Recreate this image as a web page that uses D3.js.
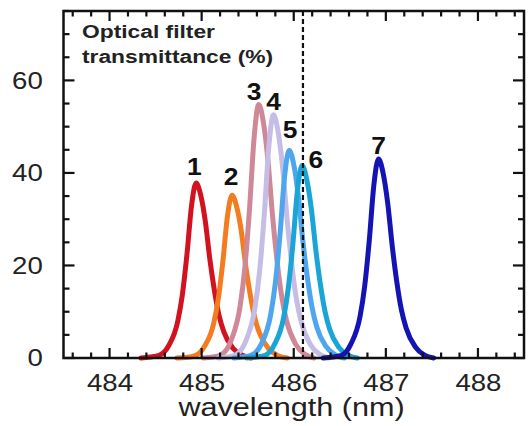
<!DOCTYPE html>
<html>
<head>
<meta charset="utf-8">
<script src="https://cdn.jsdelivr.net/npm/d3@7"></script>
<style>
  body { margin: 0; background: #fff; }
  svg { display: block; font-family: "Liberation Sans", Arial, sans-serif; }
</style>
</head>
<body>
<svg id="chart" width="528" height="426"></svg>
<script>
// ---- data ----
const filterNames = ["1", "2", "3", "4", "5", "6", "7"];
const peakCenters = [484.94, 485.33, 485.62, 485.78, 485.95, 486.09, 486.92]; // nm
// sample offsets (nm) from each peak centre
const offsets = [-0.6, -0.5, -0.4, -0.3, -0.2, -0.15, -0.1, -0.05, 0, 0.05, 0.1, 0.15, 0.2, 0.25, 0.3, 0.4, 0.5, 0.6];
const t1 = [0, 0.2, 0.6, 2.6, 7.9, 13.6, 22.3, 32.9, 37.8, 35.2, 29.5, 21.2, 14.4, 9.1, 5.7, 2.1, 0.6, 0];
const t2 = [0, 0.1, 0.5, 2.5, 7.4, 12.7, 20.8, 30.6, 35.2, 32.7, 27.5, 19.7, 13.4, 8.4, 5.3, 1.9, 0.5, 0];
const t3 = [0, 0.2, 0.8, 3.8, 11.5, 19.7, 32.3, 47.7, 54.8, 51.0, 42.7, 30.7, 20.8, 13.2, 8.2, 3.0, 0.8, 0];
const t4 = [0, 0.2, 0.8, 3.7, 11.0, 18.9, 31.0, 45.8, 52.6, 48.9, 41.0, 29.5, 20.0, 12.6, 7.9, 2.9, 0.8, 0];
const t5 = [0, 0.2, 0.7, 3.1, 9.4, 16.2, 26.5, 39.1, 44.9, 41.8, 35.0, 25.1, 17.1, 10.8, 6.7, 2.5, 0.7, 0];
const t6 = [0, 0.2, 0.6, 2.9, 8.7, 15.0, 24.5, 36.2, 41.6, 38.7, 32.4, 23.3, 15.8, 10.0, 6.2, 2.3, 0.6, 0];
const t7 = [0, 0.2, 0.6, 3.0, 9.0, 15.5, 25.4, 37.4, 43.0, 40.0, 33.5, 24.1, 16.3, 10.3, 6.5, 2.4, 0.6, 0];
const transmittance = [t1, t2, t3, t4, t5, t6, t7];
const markerWavelength = 486.10;
const xTickLabels = [484, 485, 486, 487, 488];
const yTickLabels = [0, 20, 40, 60];
const colors = ["#d2131f", "#f47c20", "#cf8898", "#c5bde6", "#4ea6ee", "#19a5d6", "#1414b4"];
// label anchor positions (wavelength, value) for numbers
const labelX = [484.92, 485.32, 485.57, 485.78, 485.96, 486.24, 486.92];
const labelY = [39.5, 37.3, 55.7, 53.6, 47.5, 41.0, 44.2];

// ---- layout ----
const svg = d3.select("#chart");
const L = 63.5, R = 524, T = 11, B = 358;
const x = d3.scaleLinear().domain([483.5, 488.5]).range([L, R]);
const y = d3.scaleLinear().domain([0, 75]).range([B, T]);
const SX = 1.15;

// curves
const line = d3.line()
  .x(d => x(d[0]))
  .y(d => y(d[1]))
  .curve(d3.curveMonotoneX);

const curves = svg.append("g");
transmittance.forEach((vals, i) => {
  const pts = offsets.map((o, k) => [peakCenters[i] + o, vals[k]]);
  curves.append("path")
    .datum(pts)
    .attr("d", line)
    .attr("fill", "none")
    .attr("stroke", colors[i])
    .attr("stroke-width", 5)
    .attr("stroke-linejoin", "round")
    .attr("stroke-linecap", "round");
});

// dashed marker
svg.append("line")
  .attr("x1", x(markerWavelength)).attr("x2", x(markerWavelength))
  .attr("y1", T).attr("y2", B)
  .attr("stroke", "#111").attr("stroke-width", 2.2)
  .attr("stroke-dasharray", "5,3");

// tick marks (drawn explicitly, pointing inward on all four sides)
const xMajor = xTickLabels;
const xMinor = d3.range(483.6, 488.45, 0.2).filter(v => Math.abs(v - Math.round(v)) > 0.05);
const yMajor = yTickLabels;
const yMinor = d3.range(5, 75.1, 5).filter(v => v % 20 !== 0);
const tickG = svg.append("g").attr("stroke", "#111").attr("stroke-width", 2.2);
function xTicks(vals, len) {
  tickG.selectAll(null).data(vals).join("line")
    .attr("x1", d => x(d)).attr("x2", d => x(d)).attr("y1", B).attr("y2", B - len);
  tickG.selectAll(null).data(vals).join("line")
    .attr("x1", d => x(d)).attr("x2", d => x(d)).attr("y1", T).attr("y2", T + len);
}
function yTicks(vals, len) {
  tickG.selectAll(null).data(vals).join("line")
    .attr("y1", d => y(d)).attr("y2", d => y(d)).attr("x1", L).attr("x2", L + len);
  tickG.selectAll(null).data(vals).join("line")
    .attr("y1", d => y(d)).attr("y2", d => y(d)).attr("x1", R).attr("x2", R - len);
}
xTicks(xMajor, 10);
xTicks(xMinor, 5.5);
yTicks(yMajor, 11);
yTicks(yMinor, 6);

// tick labels via d3 axes (no tick marks)
svg.append("g").attr("transform", `translate(0,${B})`)
  .call(d3.axisBottom(x).tickValues(xTickLabels).tickSize(0).tickPadding(16).tickFormat(d3.format("d")))
  .call(g => g.select(".domain").remove())
  .call(g => g.selectAll("text").attr("font-size", 24).attr("fill", "#222")
    .attr("font-family", "Liberation Sans, Arial, sans-serif")
    .attr("transform", `scale(${SX},1)`));
svg.append("g").attr("transform", `translate(${L},0)`)
  .call(d3.axisLeft(y).tickValues(yTickLabels).tickSize(0).tickPadding(18).tickFormat(d3.format("d")))
  .call(g => g.select(".domain").remove())
  .call(g => g.selectAll("text").attr("font-size", 24).attr("fill", "#222")
    .attr("font-family", "Liberation Sans, Arial, sans-serif")
    .attr("transform", `scale(${SX},1)`));

// frame
svg.append("rect")
  .attr("x", L).attr("y", T).attr("width", R - L).attr("height", B - T)
  .attr("fill", "none").attr("stroke", "#111").attr("stroke-width", 2.5);

// helper for stretched text placed at (px,py)
function addText(txt, px, py, opts) {
  const g = svg.append("g").attr("transform", `translate(${px},${py}) scale(${opts.sx || SX},1)`);
  g.append("text")
    .attr("text-anchor", opts.anchor || "start")
    .attr("font-size", opts.size)
    .attr("font-weight", opts.weight || "normal")
    .attr("fill", opts.fill || "#111")
    .text(txt);
}

// peak labels
filterNames.forEach((n, i) => {
  addText(n, x(labelX[i]), y(labelY[i]), { size: 24, weight: "bold", anchor: "middle", sx: 1.1 });
});

// in-plot title
addText("Optical filter", 82, 38, { size: 19, weight: "bold", sx: 1.2, fill: "#222" });
addText("transmittance (%)", 82, 62.5, { size: 19, weight: "bold", sx: 1.2, fill: "#222" });

// x axis title
addText("wavelength (nm)", 291.5, 416, { size: 25.5, anchor: "middle", sx: 1.2, fill: "#222" });
</script>
</body>
</html>
